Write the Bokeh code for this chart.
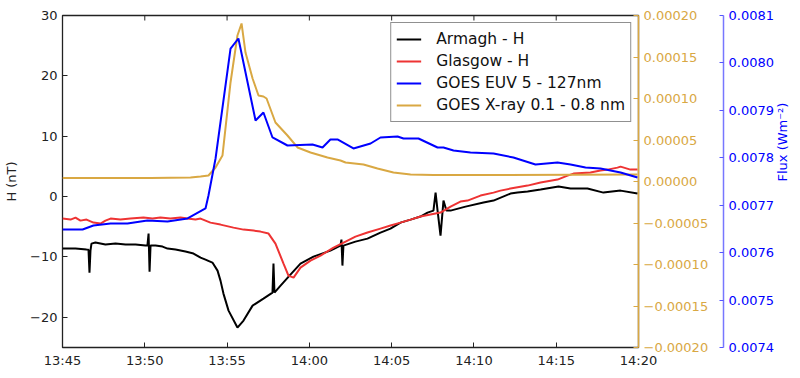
import math
import pandas as pd
from bokeh.plotting import figure
from bokeh.models import (Range1d, LinearAxis, FixedTicker,
                          DatetimeTickFormatter, CustomJSTickFormatter, ColumnDataSource)
from bokeh.embed import file_html
from bokeh.resources import INLINE

# ---------------- data (minutes after 13:45) ----------------
START = "2015-03-17 13:45:00"

armagh_min = [0, 0.79, 1.46, 1.58, 1.64, 1.70, 1.76, 2.00, 2.61, 3.22, 3.83, 4.44, 5.04, 5.16,
              5.23, 5.29, 5.35, 5.65, 6.08, 6.38, 6.87, 7.47, 7.96, 8.39, 8.69, 9.11, 9.42,
              9.60, 9.78, 10.09, 10.63, 11.00, 11.55, 12.21, 12.76, 12.82, 12.88, 13.25, 13.85,
              14.46, 15.25, 16.28, 16.89, 16.95, 17.01, 17.07, 17.80, 18.53, 19.32, 19.93,
              20.54, 21.15, 21.75, 22.18, 22.54, 22.67, 22.79, 22.97, 23.15, 23.33, 23.58,
              24.49, 25.58, 26.19, 27.22, 27.65, 28.26, 29.05, 30.14, 30.87, 31.90, 32.87,
              33.91, 34.94]
armagh_h = [-8.61, -8.61, -8.78, -8.8, -12.59, -8.95, -7.79, -7.62, -7.95, -7.79, -7.95, -7.95,
            -8.12, -8.12, -6.13, -12.43, -8.12, -8.12, -8.28, -8.61, -8.78, -9.11, -9.44,
            -10.11, -10.44, -10.93, -12.26, -13.92, -16.07, -18.89, -21.70, -20.54, -18.06,
            -16.90, -15.90, -11.10, -15.90, -14.74, -12.92, -11.10, -9.94, -8.95, -8.12,
            -7.12, -11.43, -8.12, -7.46, -6.96, -5.96, -5.30, -4.31, -3.81, -3.31, -2.65,
            -2.32, 0.66, -2.32, -6.46, -0.66, -2.32, -2.32, -1.66, -0.99, -0.66, 0.50, 0.66,
            0.83, 1.16, 1.66, 1.33, 1.33, 0.66, 0.99, 0.50]

glasgow_min = [0, 0.49, 0.79, 1.09, 1.46, 1.88, 2.31, 2.61, 2.92, 3.52, 4.13, 4.92, 5.47, 5.95,
               6.56, 7.17, 7.60, 8.08, 8.39, 8.99, 9.60, 10.39, 11.00, 11.61, 12.03, 12.52,
               12.94, 13.43, 13.73, 14.04, 14.46, 15.07, 15.68, 16.47, 17.20, 17.80, 18.53,
               19.32, 19.93, 20.54, 21.15, 21.75, 22.36, 22.97, 23.58, 24.18, 24.61, 25.40,
               26.19, 26.61, 27.22, 28.26, 29.05, 30.08, 30.69, 31.05, 32.08, 32.69, 33.12,
               33.72, 33.91, 34.51, 34.94]
glasgow_h = [-3.64, -3.81, -3.48, -3.98, -3.81, -4.31, -4.47, -3.98, -3.64, -3.81, -3.64,
             -3.48, -3.64, -3.48, -3.64, -3.48, -3.64, -3.81, -3.64, -4.31, -4.64, -5.14,
             -5.47, -5.63, -5.80, -6.13, -7.79, -11.10, -13.09, -13.42, -11.76, -10.60,
             -9.77, -8.45, -7.46, -6.63, -5.96, -5.30, -4.80, -4.31, -3.81, -3.31, -2.98,
             -2.65, -1.66, -0.83, -0.66, 0.17, 0.66, 0.99, 1.33, 1.82, 2.32, 2.82, 3.48,
             3.81, 3.98, 4.31, 4.47, 4.80, 4.97, 4.47, 4.47]

euv_min = [0, 1.22, 1.88, 2.92, 3.95, 5.16, 6.38, 7.60, 8.69, 8.87, 9.30, 10.21, 10.69, 11.73,
           12.21, 12.76, 13.67, 15.19, 15.80, 16.28, 16.71, 17.68, 18.72, 19.32, 20.36, 20.72,
           21.63, 22.79, 23.15, 23.76, 24.79, 26.19, 27.40, 28.74, 30.08, 30.87, 31.78, 32.69,
           33.91, 34.94]
euv_flux = [0.0076488, 0.0076488, 0.0076572, 0.0076614, 0.0076614, 0.0076678, 0.0076657,
            0.0076720, 0.0076931, 0.0077205, 0.0077985, 0.0080304, 0.0080515, 0.0078786,
            0.0078955, 0.0078428, 0.0078259, 0.0078280, 0.0078217, 0.0078386, 0.0078386,
            0.0078196, 0.0078301, 0.0078428, 0.0078449, 0.0078407, 0.0078407, 0.0078217,
            0.0078217, 0.0078154, 0.0078111, 0.0078090, 0.0078006, 0.0077858, 0.0077901,
            0.0077858, 0.0077795, 0.0077774, 0.0077690, 0.0077584]

xray_min = [0, 5.35, 7.78, 8.39, 8.87, 9.30, 9.72, 10.21, 10.63, 10.88, 11.12, 11.55, 11.91,
            12.21, 12.40, 12.94, 13.67, 14.28, 15.07, 16.10, 16.89, 17.20, 18.29, 19.14,
            20.11, 21.15, 22.54, 24.79, 34.94]
xray_flux = [4.2e-6, 4.2e-6, 4.8e-6, 6.0e-6, 7.2e-6, 1.69e-5, 3.13e-5, 1.193e-4, 1.759e-4,
             1.904e-4, 1.554e-4, 1.241e-4, 1.036e-4, 1.024e-4, 1.0e-4, 7.11e-5, 5.54e-5,
             4.10e-5, 3.49e-5, 2.89e-5, 2.53e-5, 2.29e-5, 2.05e-5, 1.57e-5, 1.08e-5, 8.4e-6,
             7.8e-6, 7.8e-6, 8.4e-6]

x_tick_min = [0, 5, 10, 15, 20, 25, 30, 35]
h_ticks = [-20, -10, 0, 10, 20, 30]
xray_ticks = [-0.0002, -0.00015, -0.0001, -0.00005, 0.0, 0.00005, 0.0001, 0.00015, 0.0002]
euv_ticks = [0.0074, 0.0075, 0.0076, 0.0077, 0.0078, 0.0079, 0.0080, 0.0081]

labels = ["Armagh - H", "Glasgow - H", "GOES EUV 5 - 127nm", "GOES X-ray 0.1 - 0.8 nm"]

# ---------------- helpers ----------------
base = pd.Timestamp(START)


def to_time(mins):
    return [base + pd.Timedelta(minutes=m) for m in mins]


def to_ms(mins):
    return [(base + pd.Timedelta(minutes=m)).value // 10**6 for m in mins]


FONT = "DejaVu Sans"
INK = "#222222"
BLACK = "#000000"
RED = "#ee3333"
BLUE = "#0000ff"
GOLD = "#d9a843"

p = figure(width=800, height=378, x_axis_type="datetime",
           x_range=Range1d(base, base + pd.Timedelta(minutes=35)),
           y_range=Range1d(-25, 30),
           output_backend="svg", toolbar_location=None,
           min_border_left=62, min_border_right=162, min_border_top=15, min_border_bottom=31)
p.grid.visible = False
p.outline_line_color = INK
p.outline_line_width = 1.3
p.background_fill_color = "white"
p.border_fill_color = "white"

p.extra_y_ranges = {"xray": Range1d(-0.0002, 0.0002), "euv": Range1d(0.0074, 0.0081)}

xt = FixedTicker(ticks=to_ms(x_tick_min))
fmt = DatetimeTickFormatter(minutes="%H:%M", hourmin="%H:%M", hours="%H:%M", minsec="%H:%M")

# bottom axis
xa = p.xaxis[0]
xa.ticker = xt
xa.formatter = fmt
xa.major_tick_in = 5
xa.major_tick_out = 0
xa.minor_tick_line_color = None
xa.major_label_standoff = 5
xa.major_label_text_font = FONT
xa.major_label_text_font_size = "13px"
xa.major_label_text_color = INK
xa.axis_line_color = None
xa.major_tick_line_color = INK

# top mirror ticks (inward)
p.ray(x=to_time(x_tick_min), y=[p.y_range.end] * len(x_tick_min), length=5,
      length_units="screen", angle=-math.pi / 2, color=INK, line_width=1)

# left axis
ya = p.yaxis[0]
ya.ticker = FixedTicker(ticks=h_ticks)
ya.formatter = CustomJSTickFormatter(code="return (tick < 0 ? '\u2212' : '') + Math.abs(tick).toFixed(0);")
ya.major_tick_in = 5
ya.major_tick_out = 0
ya.minor_tick_line_color = None
ya.major_label_standoff = 5
ya.major_label_text_font = FONT
ya.major_label_text_font_size = "13px"
ya.major_label_text_color = INK
ya.axis_line_color = None
ya.major_tick_line_color = INK
ya.axis_label = "H (nT)"
ya.axis_label_text_font = FONT
ya.axis_label_text_font_size = "13px"
ya.axis_label_text_font_style = "normal"
ya.axis_label_text_color = INK
ya.axis_label_standoff = 8

# gold axis (X-ray)
ga = LinearAxis(y_range_name="xray", ticker=FixedTicker(ticks=xray_ticks),
                formatter=CustomJSTickFormatter(
                    code="return (tick < -1e-12 ? '\u2212' : '') + Math.abs(tick).toFixed(5);"))
ga.major_tick_in = 5
ga.major_tick_out = 0
ga.minor_tick_line_color = None
ga.major_label_standoff = 5
ga.major_label_text_font = FONT
ga.major_label_text_font_size = "13px"
ga.major_label_text_color = GOLD
ga.axis_line_color = GOLD
ga.axis_line_width = 1.5
ga.major_tick_line_color = GOLD
ga.axis_label = "\u00a0"
ga.axis_label_text_font_size = "8px"
ga.axis_label_standoff = 0
p.add_layout(ga, "right")

# blue axis (EUV)
ba = LinearAxis(y_range_name="euv", ticker=FixedTicker(ticks=euv_ticks),
                formatter=CustomJSTickFormatter(code="return tick.toFixed(4);"))
ba.major_tick_in = 4
ba.major_tick_out = 0
ba.minor_tick_line_color = None
ba.major_label_standoff = 5
ba.major_label_text_font = FONT
ba.major_label_text_font_size = "13px"
ba.major_label_text_color = BLUE
ba.axis_line_color = "#7777ff"
ba.axis_line_width = 1.5
ba.major_tick_line_color = "#5555ff"
ba.axis_label = "Flux (Wm\u207b\u00b2)"
ba.axis_label_text_font = FONT
ba.axis_label_text_font_size = "13px"
ba.axis_label_text_font_style = "normal"
ba.axis_label_text_color = BLUE
ba.axis_label_standoff = 6
ba.axis_label_orientation = math.pi / 2
p.add_layout(ba, "right")

# ---------------- lines ----------------
src_a = ColumnDataSource(dict(t=to_time(armagh_min), v=armagh_h))
src_g = ColumnDataSource(dict(t=to_time(glasgow_min), v=glasgow_h))
src_e = ColumnDataSource(dict(t=to_time(euv_min), v=euv_flux))
src_x = ColumnDataSource(dict(t=to_time(xray_min), v=xray_flux))

p.line("t", "v", source=src_a, color=BLACK, line_width=2, legend_label=labels[0])
p.line("t", "v", source=src_g, color=RED, line_width=2, legend_label=labels[1])
p.line("t", "v", source=src_x, color=GOLD, line_width=2, y_range_name="xray",
       legend_label=labels[3])
p.line("t", "v", source=src_e, color=BLUE, line_width=2, y_range_name="euv",
       legend_label=labels[2])

lg = p.legend[0]
items = list(lg.items)
lg.items = [items[0], items[1], items[3], items[2]]
lg.location = "top_right"
lg.margin = 7
lg.padding = 5
lg.spacing = 0
lg.label_height = 22
lg.glyph_height = 22
lg.glyph_width = 25
lg.label_standoff = 15
lg.label_text_font = FONT
lg.label_text_font_size = "15.5px"
lg.label_text_color = "#111111"
lg.border_line_color = INK
lg.border_line_width = 1.3
lg.background_fill_alpha = 1.0

open("out.html", "w").write(file_html(p, INLINE))
